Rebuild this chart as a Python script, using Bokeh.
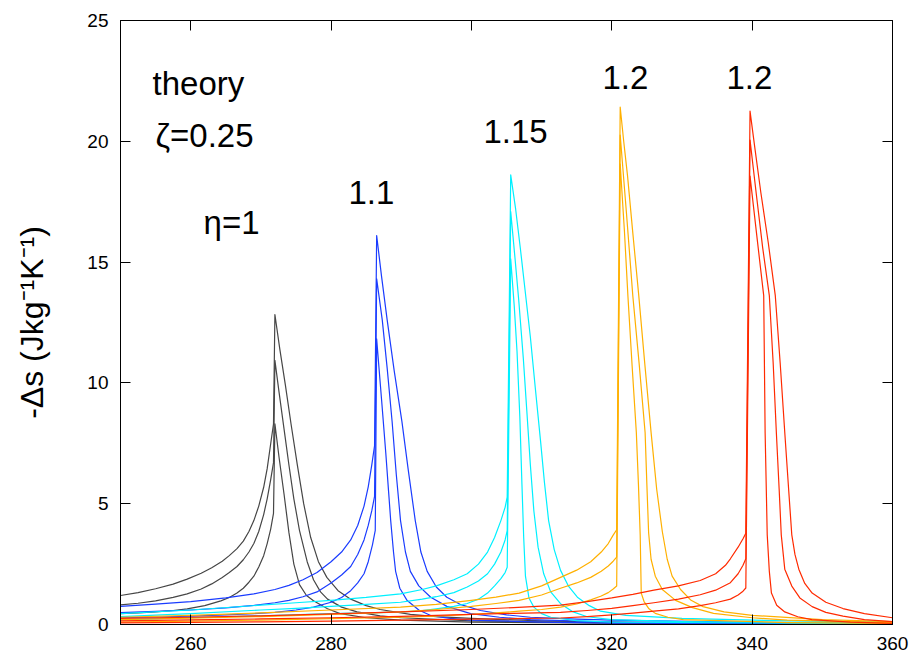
from bokeh.plotting import figure
from bokeh.models import Range1d, LinearAxis, FixedTicker, Label
from bokeh.embed import file_html
from bokeh.resources import INLINE

# ---- data: temperature (K) and -Delta s (J kg^-1 K^-1) ----
# eta = 1 (dark grey)
k1_T = [250, 252.5, 255, 257.5, 259.5, 261.5, 263, 264.5, 265.5, 266.6, 267.5, 268.3, 269, 269.7, 270.4, 270.9, 271.4, 271.8, 272.0,
        272.7, 273.5, 274.3, 275.2, 276.1, 277.1, 278.2, 279.4, 281, 282.8, 285, 287, 291.3, 295, 300, 310, 320, 340, 360]
k1_s = [1.20, 1.32, 1.48, 1.67, 1.88, 2.12, 2.35, 2.62, 2.85, 3.14, 3.45, 3.85, 4.30, 4.90, 5.68, 6.45, 7.48, 8.30, 12.83,
        11.40, 9.90, 8.30, 6.60, 5.00, 3.60, 2.60, 1.95, 1.40, 1.05, 0.78, 0.62, 0.42, 0.33, 0.25, 0.15, 0.10, 0.05, 0.03]
k2_T = [250, 252.5, 255, 257.5, 259.5, 261.5, 263, 264.5, 265.5, 266.6, 267.5, 268.3, 269, 269.7, 270.4, 270.9, 271.4, 271.8, 272.0,
        272.6, 273.3, 274.0, 274.7, 275.5, 276.6, 277.5, 278.5, 279.5, 281.5, 283.7, 287, 290, 300, 320, 360]
k2_s = [0.81, 0.88, 0.98, 1.12, 1.27, 1.47, 1.68, 1.95, 2.15, 2.40, 2.68, 3.00, 3.35, 3.85, 4.55, 5.20, 6.00, 6.70, 10.93,
        9.60, 8.10, 6.60, 5.20, 3.90, 2.60, 1.85, 1.35, 1.05, 0.72, 0.52, 0.36, 0.28, 0.15, 0.07, 0.02]
k3_T = [250, 252.5, 255, 257.5, 259.5, 262, 264.3, 265.5, 266.6, 267.5, 268.3, 269, 269.7, 270.4, 270.9, 271.4, 271.8, 272.0,
        272.6, 273.3, 274.0, 274.7, 275.5, 276.5, 277.5, 279.5, 281.3, 285, 290, 300, 330, 360]
k3_s = [0.45, 0.48, 0.52, 0.58, 0.65, 0.78, 0.98, 1.12, 1.30, 1.50, 1.75, 2.00, 2.38, 2.85, 3.35, 3.95, 4.60, 8.31,
        6.90, 5.40, 3.80, 2.50, 1.65, 1.20, 0.98, 0.65, 0.45, 0.28, 0.18, 0.10, 0.04, 0.02]

# eta = 1.1 (blue)
b1_T = [250, 255, 260, 265, 269, 272, 274, 276, 278, 280, 281.5, 282.8, 283.8, 284.7, 285.3, 285.8, 286.2, 286.5,
        287.2, 288.0, 289.0, 290.1, 291.0, 292.0, 292.8, 293.7, 295, 296.5, 298.5, 301.3, 305, 308.4, 315, 320, 340, 360]
b1_s = [0.75, 0.84, 0.95, 1.10, 1.27, 1.45, 1.62, 1.85, 2.15, 2.60, 3.00, 3.50, 4.10, 4.90, 5.70, 6.60, 7.40, 16.10,
        14.40, 12.60, 10.50, 8.40, 6.40, 4.30, 3.00, 2.20, 1.55, 1.13, 0.82, 0.58, 0.40, 0.30, 0.22, 0.18, 0.09, 0.05]
b2_T = [250, 255, 260, 265, 269, 272, 274, 276, 278, 280, 281.5, 282.8, 283.8, 284.7, 285.3, 285.8, 286.2, 286.5,
        287.3, 288.0, 288.7, 289.3, 289.9, 290.6, 291.3, 292.5, 294.2, 296.5, 299.9, 304, 308.4, 320, 340, 360]
b2_s = [0.49, 0.54, 0.60, 0.69, 0.79, 0.90, 1.00, 1.15, 1.35, 1.72, 2.05, 2.40, 2.90, 3.50, 4.10, 4.70, 5.30, 14.31,
        12.60, 10.60, 8.40, 6.20, 4.30, 3.00, 2.20, 1.60, 1.13, 0.75, 0.45, 0.30, 0.20, 0.10, 0.05, 0.03]
b3_T = [250, 255, 260, 265, 269, 272, 275, 277.5, 280, 281.5, 282.8, 283.8, 284.7, 285.3, 285.9, 286.3, 286.5,
        287.2, 287.8, 288.2, 288.5, 288.9, 289.2, 289.8, 290.85, 292.5, 294.2, 297, 300, 310, 320, 360]
b3_s = [0.28, 0.31, 0.35, 0.40, 0.45, 0.50, 0.60, 0.72, 0.92, 1.12, 1.40, 1.72, 2.10, 2.60, 3.30, 3.90, 11.82,
        9.30, 7.10, 5.50, 4.30, 3.00, 2.20, 1.50, 0.99, 0.60, 0.37, 0.25, 0.18, 0.10, 0.06, 0.02]

# eta = 1.15 (cyan)
c1_T = [250, 260, 270, 275, 280, 285, 289.9, 293, 295, 297.5, 299.4, 301, 302.3, 303.3, 304.2, 304.8, 305.1, 305.6,
        306.3, 307.0, 307.7, 308.4, 309.1, 309.85, 310.4, 311.0, 311.8, 312.7, 313.8, 315.1, 316.8, 318.4, 322, 330, 345, 360]
c1_s = [0.45, 0.60, 0.80, 0.90, 1.00, 1.12, 1.27, 1.45, 1.60, 1.85, 2.10, 2.50, 3.00, 3.60, 4.30, 4.85, 5.27, 18.61,
        17.20, 15.50, 13.70, 11.90, 9.80, 7.60, 5.90, 4.30, 3.10, 2.24, 1.60, 1.13, 0.78, 0.55, 0.38, 0.25, 0.15, 0.10]
c2_T = [250, 260, 270, 275, 280, 285, 289.9, 293, 295, 297.5, 299.4, 301, 302.3, 303.3, 304.2, 304.8, 305.1, 305.6,
        306.2, 306.75, 307.4, 307.95, 308.4, 308.9, 309.5, 310.3, 311.3, 312.7, 314.5, 316.5, 320, 330, 360]
c2_s = [0.33, 0.45, 0.60, 0.67, 0.75, 0.83, 0.92, 1.05, 1.15, 1.32, 1.55, 1.80, 2.10, 2.50, 3.00, 3.50, 3.89, 17.09,
        15.20, 13.40, 11.00, 8.60, 6.60, 4.70, 3.20, 2.10, 1.35, 0.86, 0.52, 0.32, 0.20, 0.12, 0.05]
c3_T = [250, 260, 270, 280, 285, 289.9, 293, 295, 297.5, 299.4, 301, 302.3, 303.3, 304.2, 304.8, 305.1, 305.6,
        306.1, 306.5, 306.9, 307.2, 307.45, 307.7, 308.2, 308.9, 310, 311.3, 315, 320, 360]
c3_s = [0.20, 0.28, 0.36, 0.45, 0.48, 0.51, 0.58, 0.65, 0.75, 0.87, 1.05, 1.30, 1.60, 1.90, 2.15, 2.37, 15.13,
        13.20, 11.30, 8.60, 5.80, 3.60, 2.00, 1.10, 0.72, 0.45, 0.30, 0.16, 0.10, 0.03]

# eta = 1.2 (orange)
o1_T = [250, 260, 270, 280, 289.9, 295, 300, 303.5, 306.8, 310, 312.7, 315, 317, 318.5, 319.5, 320.2, 320.7, 321.2,
        321.7, 322.25, 323.0, 323.85, 324.7, 325.6, 326.4, 327.2, 327.9, 328.6, 329.8, 331.3, 333.0, 336, 340, 350, 360]
o1_s = [0.30, 0.38, 0.48, 0.60, 0.72, 0.83, 1.00, 1.13, 1.30, 1.60, 1.95, 2.25, 2.60, 3.00, 3.35, 3.70, 3.92, 21.42,
        20.00, 18.56, 16.20, 13.60, 10.80, 7.95, 5.60, 3.85, 2.70, 2.00, 1.45, 1.00, 0.74, 0.52, 0.38, 0.20, 0.12]
o2_T = [250, 260, 270, 280, 290, 295, 300, 303.5, 306.8, 310, 312.7, 315, 317, 318.5, 319.5, 320.2, 320.7, 321.2,
        322.1, 323.0, 323.9, 324.75, 325.0, 325.25, 325.6, 326.2, 327.2, 329.1, 331.5, 334.5, 340, 345, 360]
o2_s = [0.20, 0.26, 0.33, 0.42, 0.52, 0.62, 0.75, 0.87, 1.00, 1.22, 1.50, 1.72, 1.95, 2.20, 2.42, 2.62, 2.79, 20.26,
        17.00, 13.60, 10.80, 7.95, 5.80, 3.80, 2.70, 2.00, 1.45, 1.00, 0.70, 0.46, 0.28, 0.18, 0.08]
o3_T = [250, 260, 270, 280, 290, 295, 300, 303.5, 306.8, 310, 312.7, 315, 317, 318.5, 319.5, 320.2, 320.7, 321.2,
        321.8, 322.3, 322.9, 323.5, 323.8, 324.05, 324.2, 324.6, 325.3, 326.2, 328, 330.2, 345, 360]
o3_s = [0.10, 0.14, 0.18, 0.24, 0.30, 0.35, 0.42, 0.48, 0.55, 0.62, 0.72, 0.85, 1.02, 1.18, 1.32, 1.47, 1.59, 19.06,
        16.30, 13.60, 10.70, 7.95, 5.80, 3.70, 1.30, 0.95, 0.65, 0.46, 0.30, 0.20, 0.08, 0.05]

# eta = 1.2 (red)
r1_T = [250, 260, 270, 280, 290, 300, 306, 312.7, 316.5, 320, 323, 326, 329.5, 332.6, 334.8, 336.2, 336.9, 338.0, 338.7, 339.1, 339.7,
        340.4, 341.25, 342.3, 343.3, 344.0, 344.65, 345.2, 345.65, 346.1, 346.65, 347.5, 348.55, 350.5, 352.95, 356, 360]
r1_s = [0.25, 0.30, 0.36, 0.44, 0.52, 0.62, 0.70, 0.80, 0.95, 1.10, 1.25, 1.42, 1.60, 1.82, 2.10, 2.45, 2.72, 3.20, 3.55, 3.78, 21.25,
        19.70, 17.86, 15.80, 13.61, 10.80, 7.95, 5.60, 3.71, 2.90, 2.29, 1.70, 1.30, 0.92, 0.66, 0.45, 0.28]
r2_T = [250, 260, 270, 280, 290, 300, 306, 312.7, 316.5, 320, 323, 326, 329.5, 332.6, 334.8, 336.9, 338.0, 338.7, 339.1, 339.7,
        340.6, 341.5, 342.45, 343.0, 343.45, 343.85, 344.15, 344.65, 345.65, 346.8, 348.55, 350.5, 352.95, 356, 360]
r2_s = [0.15, 0.19, 0.23, 0.28, 0.34, 0.42, 0.46, 0.50, 0.58, 0.67, 0.78, 0.90, 1.05, 1.23, 1.42, 1.73, 2.10, 2.45, 2.72, 20.05,
        17.80, 15.60, 13.61, 10.80, 7.95, 5.60, 3.71, 2.29, 1.59, 1.10, 0.74, 0.50, 0.35, 0.20, 0.12]
r3_T = [250, 260, 270, 280, 290, 300, 306, 312.7, 316.5, 320, 323, 326, 329.5, 332.6, 334.8, 336.9, 338.0, 338.7, 339.1, 339.7,
        340.7, 341.65, 341.85, 342.15, 342.45, 342.75, 343.5, 344.65, 346.5, 348.5, 354, 360]
r3_s = [0.07, 0.09, 0.11, 0.14, 0.18, 0.22, 0.24, 0.27, 0.33, 0.40, 0.47, 0.55, 0.65, 0.78, 0.90, 1.05, 1.22, 1.38, 1.51, 18.56,
        16.00, 13.61, 7.95, 3.71, 2.20, 1.30, 0.80, 0.52, 0.32, 0.20, 0.10, 0.05]

x_ticks = [260, 280, 300, 320, 340, 360]
y_ticks = [0, 5, 10, 15, 20, 25]

# annotations: (text, x, y)
notes = [("theory", 254.56, 22.39), ("ζ=0.25", 254.99, 20.24), ("η=1", 261.83, 16.64),
         ("1.1", 282.49, 17.88), ("1.15", 301.72, 20.41), ("1.2", 318.68, 22.64), ("1.2", 336.35, 22.64)]

FONT = "Liberation Sans"

p = figure(width=909, height=671, output_backend="svg", toolbar_location=None,
           x_range=Range1d(250, 360), y_range=Range1d(0, 25),
           min_border_left=120, min_border_right=17, min_border_top=20, min_border_bottom=47)
p.background_fill_color = "white"
p.border_fill_color = "white"
p.grid.visible = False
p.outline_line_color = "black"
p.outline_line_width = 1

groups = [
    ("#464646", [(k1_T, k1_s), (k2_T, k2_s), (k3_T, k3_s)]),
    ("#1a3cff", [(b1_T, b1_s), (b2_T, b2_s), (b3_T, b3_s)]),
    ("#00f0ff", [(c1_T, c1_s), (c2_T, c2_s), (c3_T, c3_s)]),
    ("#ffb000", [(o1_T, o1_s), (o2_T, o2_s), (o3_T, o3_s)]),
    ("#ff2a00", [(r1_T, r1_s), (r2_T, r2_s), (r3_T, r3_s)]),
]
for color, curves in groups:
    for T, s in curves:
        p.line(T, s, line_color=color, line_width=1.2, line_join="round")

def style_axis(ax, ticks, labels=True):
    ax.ticker = FixedTicker(ticks=ticks)
    ax.major_tick_in = 10
    ax.major_tick_out = 0
    ax.minor_tick_in = 0
    ax.minor_tick_out = 0
    ax.axis_line_color = "black"
    ax.major_tick_line_color = "black"
    if labels:
        ax.major_label_text_font = FONT
        ax.major_label_text_font_size = "19px"
        ax.major_label_text_color = "black"
        ax.major_label_standoff = 12
    else:
        ax.major_label_text_font_size = "0px"
        ax.major_label_text_color = None
        ax.major_label_standoff = 0

style_axis(p.xaxis[0], x_ticks)
style_axis(p.yaxis[0], y_ticks)
p.yaxis[0].axis_label = "-Δs (Jkg⁻¹K⁻¹)"
p.yaxis[0].axis_label_text_font = FONT
p.yaxis[0].axis_label_text_font_size = "32px"
p.yaxis[0].axis_label_text_font_style = "normal"
p.yaxis[0].axis_label_text_color = "black"
p.yaxis[0].axis_label_standoff = 34

top = LinearAxis()
style_axis(top, x_ticks, labels=False)
p.add_layout(top, "above")
right = LinearAxis()
style_axis(right, y_ticks, labels=False)
p.add_layout(right, "right")

for txt, x, y in notes:
    p.add_layout(Label(x=x, y=y, text=txt, text_font=FONT, text_font_size="33px",
                       text_color="black", text_align="left", text_baseline="alphabetic"))

open("out.html", "w").write(file_html(p, INLINE))
